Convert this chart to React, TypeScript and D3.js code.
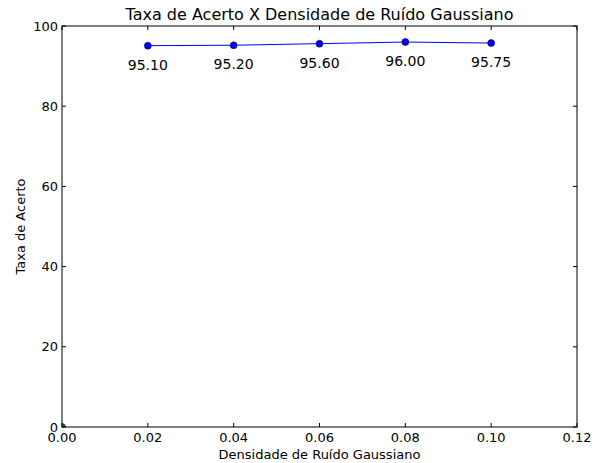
import React, { useRef, useEffect } from 'react';
import * as d3 from 'd3';

const width = 599;
const height = 463;
const margin = { top: 26, right: 22, bottom: 36, left: 62 };

// Dados
const densidades = [0.02, 0.04, 0.06, 0.08, 0.1];
const taxas = [95.1, 95.2, 95.6, 96.0, 95.75];
const rotulos = ['95.10', '95.20', '95.60', '96.00', '95.75'];
const xTicks = [0, 0.02, 0.04, 0.06, 0.08, 0.1, 0.12];
const yTicks = [0, 20, 40, 60, 80, 100];

export default function App() {
  const svgRef = useRef<SVGSVGElement | null>(null);

  useEffect(() => {
    if (!svgRef.current) return;
    const root = d3.select(svgRef.current);
    root.selectAll('*').remove();

    const w = width - margin.left - margin.right;
    const h = height - margin.top - margin.bottom;
    const font = 'DejaVu Sans, sans-serif';

    const x = d3.scaleLinear().domain([0, 0.12]).range([0, w]);
    const y = d3.scaleLinear().domain([0, 100]).range([h, 0]);

    root.append('defs').append('clipPath').attr('id', 'area')
      .append('rect').attr('width', w).attr('height', h);

    const g = root.append('g').attr('transform', `translate(${margin.left},${margin.top})`);

    // ticks para dentro em todos os lados
    xTicks.forEach(t => {
      g.append('line').attr('x1', x(t)).attr('x2', x(t)).attr('y1', h).attr('y2', h - 4).attr('stroke', '#000');
      g.append('line').attr('x1', x(t)).attr('x2', x(t)).attr('y1', 0).attr('y2', 4).attr('stroke', '#000');
      g.append('text').attr('x', x(t)).attr('y', h + 15).attr('text-anchor', 'middle')
        .style('font-family', font).style('font-size', '13px').text(t.toFixed(2));
    });
    yTicks.forEach(t => {
      g.append('line').attr('x1', 0).attr('x2', 4).attr('y1', y(t)).attr('y2', y(t)).attr('stroke', '#000');
      g.append('line').attr('x1', w).attr('x2', w - 4).attr('y1', y(t)).attr('y2', y(t)).attr('stroke', '#000');
      g.append('text').attr('x', -4).attr('y', y(t)).attr('dy', '0.35em').attr('text-anchor', 'end')
        .style('font-family', font).style('font-size', '13px').text(String(t));
    });

    const line = d3.line<number>().x((d, i) => x(densidades[i])).y(d => y(d));
    g.append('path').datum(taxas).attr('d', line).attr('fill', 'none').attr('stroke', '#0000ff').attr('stroke-width', 1);

    g.selectAll('circle.pt').data(taxas).enter().append('circle')
      .attr('class', 'pt')
      .attr('cx', (d, i) => x(densidades[i])).attr('cy', d => y(d)).attr('r', 3.5)
      .attr('fill', '#0000ff').attr('stroke', '#000').attr('stroke-width', 0.5);

    // ponto verde na origem (cortado pelos eixos)
    g.append('circle').attr('clip-path', 'url(#area)')
      .attr('cx', x(0)).attr('cy', y(0)).attr('r', 3.5)
      .attr('fill', '#008000').attr('stroke', '#000').attr('stroke-width', 0.5);

    g.selectAll('text.lbl').data(taxas).enter().append('text')
      .attr('class', 'lbl')
      .attr('x', (d, i) => x(densidades[i])).attr('y', d => y(d - 4.75)).attr('dy', '0.35em')
      .attr('text-anchor', 'middle')
      .style('font-family', font).style('font-size', '14px')
      .text((d, i) => rotulos[i]);

    g.append('rect').attr('width', w).attr('height', h).attr('fill', 'none').attr('stroke', '#000').attr('stroke-width', 1);

    root.append('text').attr('x', margin.left + w / 2).attr('y', 20).attr('text-anchor', 'middle')
      .style('font-family', font).style('font-size', '16px').text('Taxa de Acerto X Densidade de Ruído Gaussiano');
    root.append('text').attr('x', margin.left + w / 2).attr('y', 459).attr('text-anchor', 'middle')
      .style('font-family', font).style('font-size', '13px').text('Densidade de Ruído Gaussiano');
    root.append('text').attr('transform', `translate(25,${margin.top + h / 2}) rotate(-90)`).attr('text-anchor', 'middle')
      .style('font-family', font).style('font-size', '13px').text('Taxa de Acerto');
  }, []);

  return (
    <svg ref={svgRef} width={width} height={height}
      style={{ position: 'absolute', left: 0, top: 0, background: '#fff' }} />
  );
}
